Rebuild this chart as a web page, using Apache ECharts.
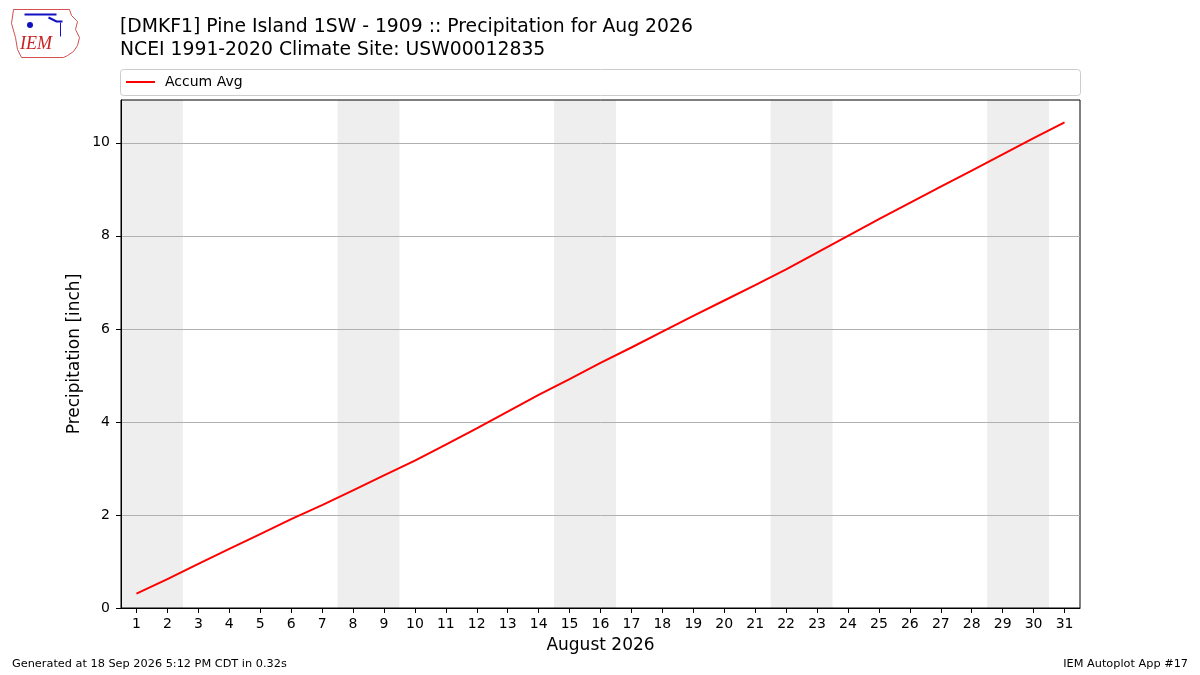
<!DOCTYPE html>
<html>
<head>
<meta charset="utf-8">
<script src="https://cdn.jsdelivr.net/npm/echarts@6/dist/echarts.min.js"></script>
<style>
  html, body { margin: 0; padding: 0; background: #fff; }
  #chart { width: 1200px; height: 675px; }
</style>
</head>
<body>
<div id="chart"></div>
<script>
// day of month and accumulated average precipitation (inch)
var days = [1, 2, 3, 4, 5, 6, 7, 8, 9, 10, 11, 12, 13, 14, 15, 16,
            17, 18, 19, 20, 21, 22, 23, 24, 25, 26, 27, 28, 29, 30, 31];
var accumAvg = [0.31, 0.62, 0.95, 1.27, 1.59, 1.91, 2.21, 2.53, 2.85, 3.17, 3.51,
                3.86, 4.22, 4.58, 4.92, 5.27, 5.60, 5.94, 6.28, 6.61, 6.94, 7.28,
                7.64, 8.00, 8.36, 8.71, 9.06, 9.40, 9.75, 10.10, 10.44];
// weekends (sat, sun) of Aug 2026
var weekends = [[1, 2], [8, 9], [15, 16], [22, 23], [29, 30]];
var yTicks = [0, 2, 4, 6, 8, 10];

var FONT = 'DejaVu Sans';
var chart = echarts.init(document.getElementById('chart'));

var lineData = days.map(function (d, i) { return [d, accumAvg[i]]; });
var shade = weekends.map(function (w) {
  return [{ xAxis: w[0] - 0.5 }, { xAxis: w[1] + 0.5 }];
});

var option = {
  backgroundColor: '#fff',
  animation: false,
  textStyle: { fontFamily: FONT },
  title: {
    text: '[DMKF1] Pine Island 1SW - 1909 :: Precipitation for Aug 2026\nNCEI 1991-2020 Climate Site: USW00012835',
    left: 115, top: 11,
    textStyle: { fontFamily: FONT, fontSize: 18.8, fontWeight: 'normal', color: '#000', lineHeight: 23 }
  },
  legend: {
    left: 121, top: 70,
    icon: 'rect', itemWidth: 29, itemHeight: 2, itemGap: 10,
    textStyle: { fontFamily: FONT, fontSize: 14, color: '#000', padding: [0, 0, 0, 5] },
    data: ['Accum Avg']
  },
  grid: {
    left: 121, right: 120, top: 100, bottom: 67, z: 5,
    show: true, borderColor: '#000', borderWidth: 1
  },
  xAxis: {
    type: 'value', min: 0.5, max: 31.5, z: 5,
    name: 'August 2026', nameLocation: 'middle', nameGap: 29,
    nameTextStyle: { fontFamily: FONT, fontSize: 17, color: '#000' },
    axisLine: { lineStyle: { color: '#000' } },
    axisTick: { show: true, inside: false, length: 5, lineStyle: { color: '#000' }, customValues: days },
    axisLabel: { fontFamily: FONT, fontSize: 14, color: '#000', margin: 9, customValues: days },
    splitLine: { show: false }
  },
  yAxis: {
    type: 'value', min: 0, max: 10.92, interval: 2, z: 5,
    name: 'Precipitation [inch]', nameLocation: 'middle', nameGap: 38,
    nameMoveOverlap: false,
    nameTextStyle: { fontFamily: FONT, fontSize: 17, color: '#000' },
    axisLine: { show: true, lineStyle: { color: '#000' } },
    axisTick: { show: true, length: 5, lineStyle: { color: '#000' }, customValues: yTicks },
    axisLabel: { fontFamily: FONT, fontSize: 14, color: '#000', margin: 11, customValues: yTicks },
    splitLine: { show: true, lineStyle: { color: '#b0b0b0', width: 1 } }
  },
  series: [{
    // weekend shading, kept under the axes and grid lines
    type: 'line',
    data: [],
    silent: true,
    z: 1,
    markArea: {
      silent: true,
      itemStyle: { color: '#eeeeee' },
      data: shade
    }
  }, {
    name: 'Accum Avg',
    type: 'line',
    data: lineData,
    showSymbol: false,
    symbol: 'none',
    itemStyle: { color: '#ff0000' },
    lineStyle: { color: '#ff0000', width: 2 },
    z: 10
  }],
  graphic: [
    // legend frame
    { type: 'rect', left: 120, top: 69, z: -1,
      shape: { width: 960, height: 26, r: 3 },
      style: { fill: '#fff', stroke: '#cccccc', lineWidth: 1 } },
    // footer texts
    { type: 'text', left: 12, top: 659,
      style: { text: 'Generated at 18 Sep 2026 5:12 PM CDT in 0.32s', font: '11.3px "DejaVu Sans"', fill: '#000' } },
    { type: 'text', right: 12, top: 659,
      style: { text: 'IEM Autoplot App #17', font: '11.3px "DejaVu Sans"', fill: '#000' } },
    // rough IEM logo
    { type: 'polyline', left: 9, top: 7,
      shape: { points: [[2, 2], [58, 2], [60, 8], [66, 14], [64, 22], [68, 30], [66, 38], [62, 44], [56, 48], [52, 50], [10, 50], [6, 42], [4, 30], [0, 16], [2, 2]] },
      style: { stroke: '#d45050', fill: 'none', lineWidth: 1 } },
    { type: 'text', left: 20, top: 35,
      style: { text: 'IEM', font: 'italic 18px "Liberation Serif"', fill: '#cc2020' } },
    { type: 'polyline', left: 22, top: 12,
      shape: { points: [[8, 14], [40, 14]] },
      style: { stroke: '#1010c0', lineWidth: 2 } },
    { type: 'circle', left: 27, top: 22,
      shape: { r: 3 }, style: { fill: '#1010c0' } },
    { type: 'polyline', left: 46, top: 15,
      shape: { points: [[0, 0], [8, 4], [14, 4]] },
      style: { stroke: '#1010c0', lineWidth: 2, fill: 'none' } },
    { type: 'polyline', left: 58, top: 20,
      shape: { points: [[0, 0], [0, 14]] },
      style: { stroke: '#1010c0', lineWidth: 1 } }
  ]
};

chart.setOption(option);
</script>
</body>
</html>
